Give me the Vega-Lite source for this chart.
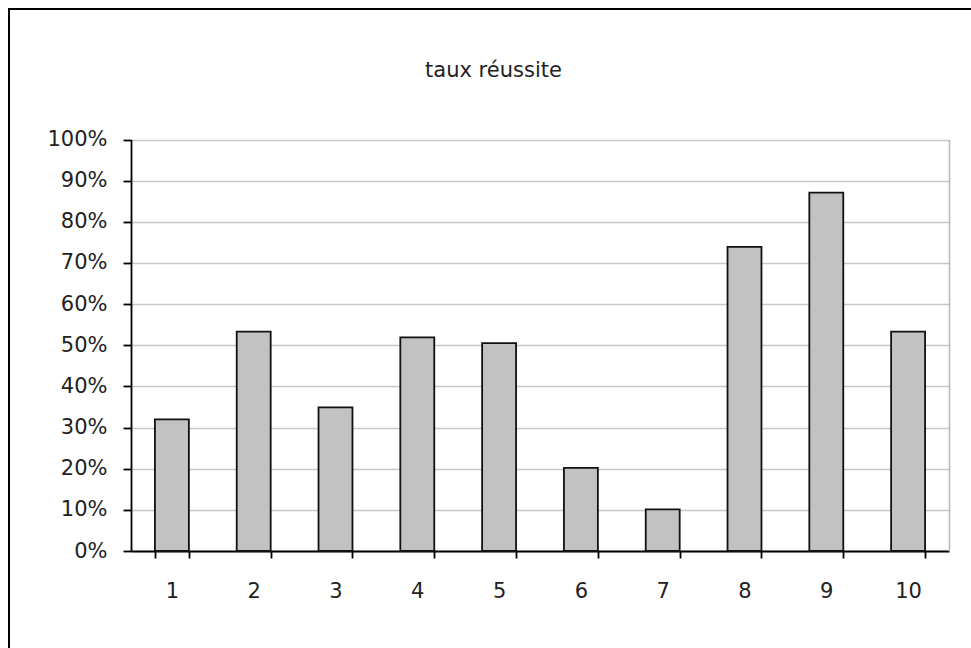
{
  "$schema": "https://vega.github.io/schema/vega-lite/v6.json",
  "width": 963,
  "height": 640,
  "autosize": {"type": "none"},
  "padding": {"left": 9, "top": 9, "right": -1, "bottom": -1},
  "background": "white",
  "title": {
    "text": "taux réussite",
    "offset": -72,
    "dx": 3,
    "anchor": "middle",
    "font": "DejaVu Sans",
    "fontSize": 21,
    "fontWeight": "normal",
    "color": "#222"
  },
  "data": {
    "values": [
      {"n": 1, "taux": 0.320},
      {"n": 2, "taux": 0.533},
      {"n": 3, "taux": 0.349},
      {"n": 4, "taux": 0.519},
      {"n": 5, "taux": 0.505},
      {"n": 6, "taux": 0.202},
      {"n": 7, "taux": 0.101},
      {"n": 8, "taux": 0.739},
      {"n": 9, "taux": 0.871},
      {"n": 10, "taux": 0.533}
    ]
  },
  "encoding": {
    "x": {
      "field": "n",
      "type": "ordinal",
      "scale": {"range": [122, 940], "paddingInner": 0.585, "paddingOuter": 0.2925},
      "axis": {
        "orient": "bottom",
        "offset": -98,
        "title": null,
        "labelAngle": 0,
        "tickBand": "extent",
        "tickSize": 7,
        "tickWidth": 1.8,
        "tickColor": "#000",
        "domainColor": "#000",
        "domainWidth": 1.8,
        "labelPadding": 22,
        "labelFont": "DejaVu Sans",
        "labelFontSize": 21,
        "labelColor": "#222",
        "grid": false
      }
    }
  },
  "layer": [
    {
      "mark": {"type": "bar", "fill": "#c2c2c2", "stroke": "#111", "strokeWidth": 1.8},
      "encoding": {
        "y": {
          "field": "taux",
          "type": "quantitative",
          "scale": {"domain": [0, 1], "range": [542, 130.5], "nice": false},
          "axis": {
            "orient": "left",
            "offset": -122,
            "title": null,
            "values": [0, 0.1, 0.2, 0.3, 0.4, 0.5, 0.6, 0.7, 0.8, 0.9, 1],
            "format": ".0%",
            "tickSize": 8,
            "tickWidth": 1.8,
            "tickColor": "#000",
            "domainColor": "#000",
            "domainWidth": 1.8,
            "labelPadding": 16,
            "labelFont": "DejaVu Sans",
            "labelFontSize": 21,
            "labelColor": "#222",
            "grid": true,
            "gridColor": "#c8c8c8",
            "gridWidth": 1.5
          }
        }
      }
    },
    {
      "mark": {"type": "tick", "opacity": 0},
      "encoding": {
        "y": {
          "field": "taux",
          "type": "quantitative",
          "scale": {"domain": [0, 1], "range": [542, 130.5], "nice": false},
          "axis": {
            "orient": "right",
            "offset": -23,
            "title": null,
            "ticks": false,
            "labels": false,
            "grid": false,
            "domainColor": "#b8b8b8",
            "domainWidth": 1.5
          }
        }
      }
    }
  ],
  "resolve": {"axis": {"y": "independent"}},
  "config": {
    "view": {"stroke": "#000", "strokeWidth": 2}
  }
}
